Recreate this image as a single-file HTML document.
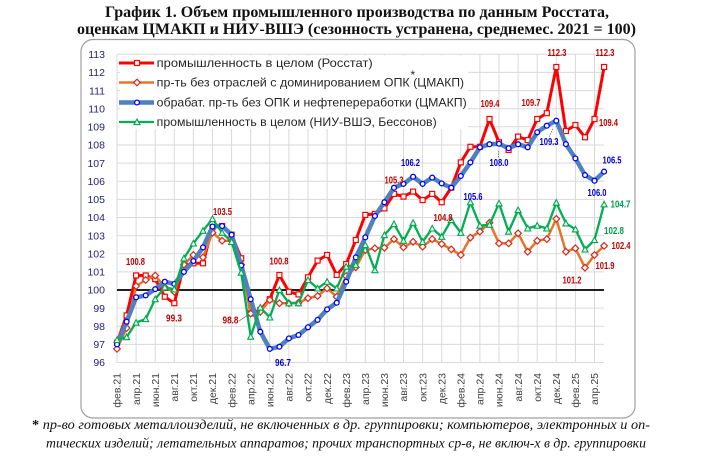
<!DOCTYPE html>
<html><head><meta charset="utf-8"><style>
html,body{margin:0;padding:0;background:#fff;}
body{width:715px;height:460px;overflow:hidden;}
svg{display:block;}
.t{font-family:"Liberation Serif","Noto Serif CJK SC",serif;font-weight:bold;font-size:16px;fill:#111;}
.f{font-family:"Liberation Serif","Noto Serif CJK SC",serif;font-style:italic;font-size:13.5px;fill:#111;}
.yl{font-family:"Liberation Sans",sans-serif;font-size:10.5px;fill:#23237d;}
.xl{font-family:"Liberation Sans",sans-serif;font-size:10.5px;fill:#404040;}
.lg{font-family:"Liberation Sans",sans-serif;font-size:12px;fill:#262626;}
.dl{font-family:"Liberation Sans",sans-serif;font-size:10px;font-weight:bold;}
.r{fill:#c00000;} .b{fill:#0000cc;} .g{fill:#00a050;}
</style></head><body>
<svg width="715" height="460" viewBox="0 0 715 460" xmlns="http://www.w3.org/2000/svg">
<defs>
<marker id="mr" markerUnits="userSpaceOnUse" markerWidth="10" markerHeight="10" refX="5" refY="5" overflow="visible"><rect x="2.5" y="2.5" width="5" height="5" fill="#fff" stroke="#f00" stroke-width="1.2"/></marker>
<marker id="mo" markerUnits="userSpaceOnUse" markerWidth="10" markerHeight="10" refX="5" refY="5" overflow="visible"><path d="M5 1.7 L8.3 5 L5 8.3 L1.7 5Z" fill="#fff" stroke="#d8281c" stroke-width="1.2"/></marker>
<marker id="mb" markerUnits="userSpaceOnUse" markerWidth="10" markerHeight="10" refX="5" refY="5" overflow="visible"><circle cx="5" cy="5" r="2.4" fill="#fff" stroke="#0000ff" stroke-width="1.3"/></marker>
<marker id="mg" markerUnits="userSpaceOnUse" markerWidth="10" markerHeight="10" refX="5" refY="5" overflow="visible"><path d="M5 2 L8 7.6 L2 7.6Z" fill="#e8f8ee" stroke="#00a550" stroke-width="1.1"/></marker>
</defs>

<!-- Title -->
<text class="t" x="357" y="17" text-anchor="middle" textLength="504" lengthAdjust="spacingAndGlyphs">График 1. Объем промышленного производства по данным Росстата,</text>
<text class="t" x="356.5" y="34" text-anchor="middle" textLength="559" lengthAdjust="spacingAndGlyphs">оценкам ЦМАКП и НИУ-ВШЭ (сезонность устранена, среднемес. 2021 = 100)</text>

<!-- Chart border -->
<rect x="81" y="39.5" width="554" height="378.5" rx="12" ry="12" fill="#fff" stroke="#a0a0a0" stroke-width="1.2"/>

<!-- Gridlines -->
<g stroke="#d9d9d9" stroke-width="1">
<line x1="117" x2="604" y1="54.3" y2="54.3"/><line x1="117" x2="604" y1="72.4" y2="72.4"/><line x1="117" x2="604" y1="90.6" y2="90.6"/><line x1="117" x2="604" y1="108.7" y2="108.7"/><line x1="117" x2="604" y1="126.8" y2="126.8"/><line x1="117" x2="604" y1="145" y2="145"/><line x1="117" x2="604" y1="163.1" y2="163.1"/><line x1="117" x2="604" y1="181.2" y2="181.2"/><line x1="117" x2="604" y1="199.4" y2="199.4"/><line x1="117" x2="604" y1="217.5" y2="217.5"/><line x1="117" x2="604" y1="235.6" y2="235.6"/><line x1="117" x2="604" y1="253.7" y2="253.7"/><line x1="117" x2="604" y1="271.9" y2="271.9"/><line x1="117" x2="604" y1="308.1" y2="308.1"/><line x1="117" x2="604" y1="326.3" y2="326.3"/><line x1="117" x2="604" y1="344.4" y2="344.4"/><line x1="117" x2="604" y1="362.5" y2="362.5"/>
<line x1="117" x2="117" y1="54.3" y2="362.5"/><line x1="136.1" x2="136.1" y1="54.3" y2="362.5"/><line x1="155.2" x2="155.2" y1="54.3" y2="362.5"/><line x1="174.3" x2="174.3" y1="54.3" y2="362.5"/><line x1="193.4" x2="193.4" y1="54.3" y2="362.5"/><line x1="212.5" x2="212.5" y1="54.3" y2="362.5"/><line x1="231.6" x2="231.6" y1="54.3" y2="362.5"/><line x1="250.7" x2="250.7" y1="54.3" y2="362.5"/><line x1="269.8" x2="269.8" y1="54.3" y2="362.5"/><line x1="288.9" x2="288.9" y1="54.3" y2="362.5"/><line x1="308" x2="308" y1="54.3" y2="362.5"/><line x1="327.1" x2="327.1" y1="54.3" y2="362.5"/><line x1="346.2" x2="346.2" y1="54.3" y2="362.5"/><line x1="365.3" x2="365.3" y1="54.3" y2="362.5"/><line x1="384.4" x2="384.4" y1="54.3" y2="362.5"/><line x1="403.5" x2="403.5" y1="54.3" y2="362.5"/><line x1="422.6" x2="422.6" y1="54.3" y2="362.5"/><line x1="441.7" x2="441.7" y1="54.3" y2="362.5"/><line x1="460.8" x2="460.8" y1="54.3" y2="362.5"/><line x1="479.9" x2="479.9" y1="54.3" y2="362.5"/><line x1="499" x2="499" y1="54.3" y2="362.5"/><line x1="518.1" x2="518.1" y1="54.3" y2="362.5"/><line x1="537.2" x2="537.2" y1="54.3" y2="362.5"/><line x1="556.3" x2="556.3" y1="54.3" y2="362.5"/><line x1="575.4" x2="575.4" y1="54.3" y2="362.5"/><line x1="594.5" x2="594.5" y1="54.3" y2="362.5"/>
</g>

<!-- Legend background -->
<rect x="120" y="55.5" width="348" height="73.5" fill="#fff"/>

<!-- 100 line -->
<line x1="117" x2="604" y1="290" y2="290" stroke="#000" stroke-width="1.8"/>

<!-- Y labels -->
<g class="yl" text-anchor="end">
<text x="105" y="58">113</text><text x="105" y="76.1">112</text><text x="105" y="94.3">111</text><text x="105" y="112.4">110</text><text x="105" y="130.5">109</text><text x="105" y="148.7">108</text><text x="105" y="166.8">107</text><text x="105" y="184.9">106</text><text x="105" y="203.1">105</text><text x="105" y="221.2">104</text><text x="105" y="239.3">103</text><text x="105" y="257.4">102</text><text x="105" y="275.6">101</text><text x="105" y="293.7">100</text><text x="105" y="311.8">99</text><text x="105" y="330">98</text><text x="105" y="348.1">97</text><text x="105" y="366.2">96</text>
</g>

<!-- X labels -->
<g class="xl" text-anchor="end">
<text transform="translate(120.7,373) rotate(-90)">фев.21</text>
<text transform="translate(139.8,373) rotate(-90)">апр.21</text>
<text transform="translate(158.9,373) rotate(-90)">июн.21</text>
<text transform="translate(178,373) rotate(-90)">авг.21</text>
<text transform="translate(197.1,373) rotate(-90)">окт.21</text>
<text transform="translate(216.2,373) rotate(-90)">дек.21</text>
<text transform="translate(235.3,373) rotate(-90)">фев.22</text>
<text transform="translate(254.4,373) rotate(-90)">апр.22</text>
<text transform="translate(273.5,373) rotate(-90)">июн.22</text>
<text transform="translate(292.6,373) rotate(-90)">авг.22</text>
<text transform="translate(311.7,373) rotate(-90)">окт.22</text>
<text transform="translate(330.8,373) rotate(-90)">дек.22</text>
<text transform="translate(349.9,373) rotate(-90)">фев.23</text>
<text transform="translate(369,373) rotate(-90)">апр.23</text>
<text transform="translate(388.1,373) rotate(-90)">июн.23</text>
<text transform="translate(407.2,373) rotate(-90)">авг.23</text>
<text transform="translate(426.3,373) rotate(-90)">окт.23</text>
<text transform="translate(445.4,373) rotate(-90)">дек.23</text>
<text transform="translate(464.5,373) rotate(-90)">фев.24</text>
<text transform="translate(483.6,373) rotate(-90)">апр.24</text>
<text transform="translate(502.7,373) rotate(-90)">июн.24</text>
<text transform="translate(521.8,373) rotate(-90)">авг.24</text>
<text transform="translate(540.9,373) rotate(-90)">окт.24</text>
<text transform="translate(560,373) rotate(-90)">дек.24</text>
<text transform="translate(579.1,373) rotate(-90)">фев.25</text>
<text transform="translate(598.2,373) rotate(-90)">апр.25</text>
</g>

<!-- Series -->
<g fill="none" stroke-linejoin="round" stroke-linecap="round">
<polyline stroke="#ff0000" stroke-width="3" marker-start="url(#mr)" marker-mid="url(#mr)" marker-end="url(#mr)" points="117,342.6 126.6,315.4 136.1,275.5 145.7,275.5 155.2,279.1 164.8,296.7 174.3,303.2 183.9,265.5 193.4,263.3 203,263.3 212.5,227.3 222.1,226 231.6,234.7 241.2,258.3 250.7,313.4 260.3,309.9 269.8,299.2 279.4,275 288.9,291.8 298.5,294.4 308,277.3 317.6,260.6 327.1,255 336.7,275 346.2,264.1 355.8,240 365.3,214.9 374.9,213.9 384.4,208.4 394,193.9 403.5,196.6 413.1,191.6 422.6,200.1 432.2,193.9 441.7,202.2 451.3,187.6 460.8,162.4 470.4,146.8 479.9,146.8 489.5,119 499,142.2 508.6,150 518.1,136.6 527.7,140.1 537.2,119 546.8,113.2 556.3,67 565.9,131 575.4,125 585,137.3 594.5,119 604.1,67"/>
<polyline stroke="#e8742a" stroke-width="2.5" marker-start="url(#mo)" marker-mid="url(#mo)" marker-end="url(#mo)" points="117,348.9 126.6,328.1 136.1,286 145.7,280 155.2,275.5 164.8,287.3 174.3,291.8 183.9,264.6 193.4,255 203,257.4 212.5,232.7 222.1,240.7 231.6,240.7 241.2,264.6 250.7,313.6 260.3,311.8 269.8,300 279.4,303.2 288.9,303.2 298.5,302.7 308,298.2 317.6,296 327.1,288.4 336.7,296.7 346.2,276 355.8,267.3 365.3,250.1 374.9,248.3 384.4,247.8 394,239.1 403.5,247.4 413.1,241.8 422.6,246.7 432.2,239.1 441.7,244 451.3,249.4 460.8,255 470.4,237.6 479.9,231.6 489.5,222.7 499,243.4 508.6,243.4 518.1,233.3 527.7,251.7 537.2,240.7 546.8,239.1 556.3,218.9 565.9,251.7 575.4,248.3 585,267.7 594.5,255 604.1,245.9"/>
<polyline stroke="#4f81bd" stroke-width="4.5" marker-start="url(#mb)" marker-mid="url(#mb)" marker-end="url(#mb)" points="117,344.4 126.6,321.7 136.1,297.3 145.7,295.4 155.2,289.1 164.8,281.7 174.3,284 183.9,271.9 193.4,261 203,247.4 212.5,226.5 222.1,226 231.6,234.7 241.2,265.5 250.7,299.2 260.3,331.7 269.8,348.9 279.4,346.7 288.9,338.4 298.5,335 308,327.3 317.6,319.9 327.1,309.4 336.7,302.7 346.2,281.7 355.8,257.4 365.3,237.4 374.9,216 384.4,202.2 394,187.7 403.5,183.9 413.1,176.7 422.6,183.9 432.2,177.6 441.7,183.4 451.3,187.7 460.8,176 470.4,162.4 479.9,147.3 489.5,144.2 499,143.7 508.6,148.2 518.1,144.2 527.7,147.3 537.2,132.3 546.8,125.7 556.3,120.7 565.9,144.1 575.4,158.4 585,175.1 594.5,180.7 604.1,171.6"/>
<polyline stroke="#00b050" stroke-width="2.3" marker-start="url(#mg)" marker-mid="url(#mg)" marker-end="url(#mg)" points="117,339.9 126.6,337.1 136.1,322.6 145.7,319 155.2,299.1 164.8,287.3 174.3,289.3 183.9,258.3 193.4,243.4 203,230.7 212.5,218.9 222.1,232.7 231.6,241.8 241.2,272.6 250.7,336.6 260.3,307.4 269.8,317.4 279.4,290 288.9,303.2 298.5,303.2 308,280 317.6,288.4 327.1,281.7 336.7,288.4 346.2,266.6 355.8,265 365.3,245 374.9,270.1 384.4,235.1 394,224 403.5,240.7 413.1,222.7 422.6,241.8 432.2,228.4 441.7,236.7 451.3,220 460.8,232.7 470.4,202.2 479.9,225.6 489.5,224.7 499,203.3 508.6,231.6 518.1,210 527.7,228.4 537.2,225.6 546.8,228.4 556.3,202.6 565.9,223.3 575.4,229.3 585,249.4 594.5,240 604.1,204.2"/>
</g>

<!-- Legend -->
<g stroke-linecap="butt">
<line x1="119" x2="154" y1="63" y2="63" stroke="#ff0000" stroke-width="3"/>
<rect x="134.5" y="60.5" width="5" height="5" fill="#fff" stroke="#f00" stroke-width="1.2"/>
<line x1="119" x2="154" y1="82.5" y2="82.5" stroke="#e8742a" stroke-width="2.5"/>
<path d="M137 79.2 L140.3 82.5 L137 85.8 L133.7 82.5Z" fill="#fff" stroke="#d8281c" stroke-width="1.2"/>
<line x1="119" x2="154" y1="102.5" y2="102.5" stroke="#4f81bd" stroke-width="4.5"/>
<circle cx="137" cy="102.5" r="2.4" fill="#fff" stroke="#0000ff" stroke-width="1.3"/>
<line x1="119" x2="154" y1="122" y2="122" stroke="#00b050" stroke-width="2.3"/>
<path d="M137 119 L140 124.6 L134 124.6Z" fill="#e8f8ee" stroke="#00a550" stroke-width="1.1"/>
</g>
<text class="lg" x="156.7" y="67" textLength="216" lengthAdjust="spacingAndGlyphs">промышленность в целом (Росстат)</text>
<text class="lg" x="156.7" y="86.5" textLength="253" lengthAdjust="spacingAndGlyphs">пр-ть без отраслей с доминированием ОПК</text>
<text class="lg" x="410.5" y="79" font-size="8">*</text>
<text class="lg" x="413.3" y="86.5" textLength="50.7" lengthAdjust="spacingAndGlyphs">(ЦМАКП)</text>
<text class="lg" x="156.7" y="106.5" textLength="310" lengthAdjust="spacingAndGlyphs">обрабат. пр-ть без ОПК и нефтепереработки (ЦМАКП)</text>
<text class="lg" x="156.7" y="126" textLength="280" lengthAdjust="spacingAndGlyphs">промышленность в целом (НИУ-ВШЭ, Бессонов)</text>

<!-- Leader lines -->
<g stroke="#555" stroke-width="0.7" fill="none">
<line x1="239" y1="321" x2="248" y2="315"/>
<line x1="498.5" y1="157.5" x2="498.5" y2="150" stroke-dasharray="1.5,1"/>
<line x1="549" y1="137" x2="553" y2="128" stroke-dasharray="1.5,1"/>
</g>

<!-- Data labels -->
<g class="dl" text-anchor="middle">
<text class="r" x="135.5" y="265.2" textLength="19" lengthAdjust="spacingAndGlyphs">100.8</text>
<text class="r" x="174" y="321.5" textLength="16" lengthAdjust="spacingAndGlyphs">99.3</text>
<text class="r" x="222.5" y="215.2" textLength="19" lengthAdjust="spacingAndGlyphs">103.5</text>
<text class="r" x="230.5" y="323.5" textLength="16" lengthAdjust="spacingAndGlyphs">98.8</text>
<text class="r" x="279" y="264.5" textLength="19" lengthAdjust="spacingAndGlyphs">100.8</text>
<text class="r" x="394" y="183.5" textLength="19" lengthAdjust="spacingAndGlyphs">105.3</text>
<text class="r" x="443" y="221.2" textLength="19" lengthAdjust="spacingAndGlyphs">104.8</text>
<text class="r" x="490" y="107" textLength="19" lengthAdjust="spacingAndGlyphs">109.4</text>
<text class="r" x="531" y="106.2" textLength="19" lengthAdjust="spacingAndGlyphs">109.7</text>
<text class="r" x="557" y="56.2" textLength="19" lengthAdjust="spacingAndGlyphs">112.3</text>
<text class="r" x="605" y="56.2" textLength="19" lengthAdjust="spacingAndGlyphs">112.3</text>
<text class="r" x="608.5" y="126.2" textLength="19" lengthAdjust="spacingAndGlyphs">109.4</text>
<text class="r" x="621" y="249.2" textLength="19" lengthAdjust="spacingAndGlyphs">102.4</text>
<text class="r" x="605" y="269.2" textLength="19" lengthAdjust="spacingAndGlyphs">101.9</text>
<text class="r" x="572" y="283.5" textLength="19" lengthAdjust="spacingAndGlyphs">101.2</text>
<text class="b" x="283" y="366.2" textLength="16" lengthAdjust="spacingAndGlyphs">96.7</text>
<text class="b" x="410.5" y="165.8" textLength="19" lengthAdjust="spacingAndGlyphs">106.2</text>
<text class="b" x="473" y="200.2" textLength="19" lengthAdjust="spacingAndGlyphs">105.6</text>
<text class="b" x="499" y="166.2" textLength="19" lengthAdjust="spacingAndGlyphs">108.0</text>
<text class="b" x="549" y="145.2" textLength="19" lengthAdjust="spacingAndGlyphs">109.3</text>
<text class="b" x="597" y="196.2" textLength="19" lengthAdjust="spacingAndGlyphs">106.0</text>
<text class="b" x="612" y="163.5" textLength="19" lengthAdjust="spacingAndGlyphs">106.5</text>
<text class="g" x="620.5" y="207.5" textLength="20" lengthAdjust="spacingAndGlyphs">104.7</text>
<text class="g" x="614" y="234.2" textLength="20" lengthAdjust="spacingAndGlyphs">102.8</text>
</g>

<!-- Footnote -->
<text class="f" x="32" y="429" textLength="618" lengthAdjust="spacingAndGlyphs"><tspan font-style="normal" font-weight="bold">*</tspan> пр-во готовых металлоизделий, не включенных в др. группировки; компьютеров, электронных и оп-</text>
<text class="f" x="46" y="447.5" textLength="600" lengthAdjust="spacingAndGlyphs">тических изделий; летательных аппаратов; прочих транспортных ср-в, не включ-х в др. группировки</text>
</svg>
</body></html>
